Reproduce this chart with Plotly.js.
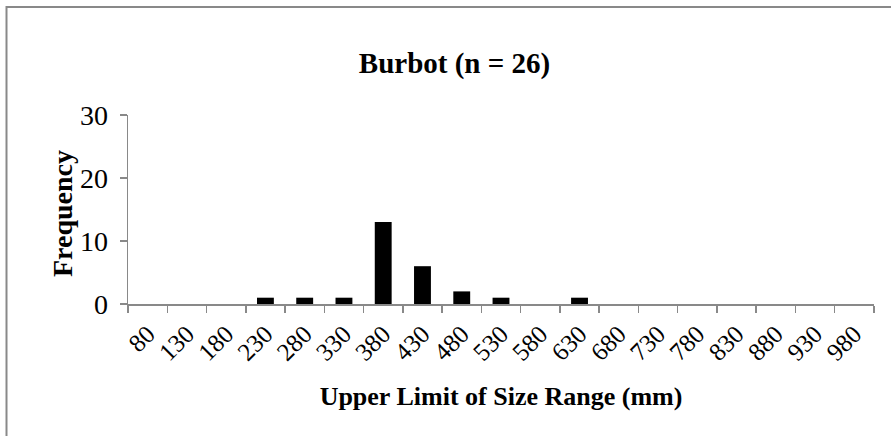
<!DOCTYPE html>
<html>
<head>
<meta charset="utf-8">
<script src="https://cdn.plot.ly/plotly-3.0.1.min.js"></script>
<style>html,body{margin:0;padding:0;background:#fff;}#chart{width:891px;height:436px;}</style>
</head>
<body>
<div id="chart"></div>
<script>
var categories = ['80','130','180','230','280','330','380','430','480','530','580','630','680','730','780','830','880','930','980'];
var frequency = [0,0,0,1,1,1,13,6,2,1,0,1,0,0,0,0,0,0,0];
var yTicks = [0,10,20,30];
var chartTitle = 'Burbot (n = 26)';
var xTitle = 'Upper Limit of Size Range (mm)';
var yTitle = 'Frequency';

var serif = 'Liberation Serif, Times New Roman, serif';
var gray = '#898989';

var trace = {
  type: 'bar',
  x: categories,
  y: frequency,
  marker: {color: '#000000', line: {width: 0}},
  hoverinfo: 'skip'
};

var layout = {
  width: 891, height: 436,
  paper_bgcolor: '#ffffff', plot_bgcolor: '#ffffff',
  margin: {l: 128, r: 17, t: 115, b: 132},
  showlegend: false,
  bargap: 0.57,
  font: {family: serif, color: '#000000'},
  title: {
    text: '<b>' + chartTitle + '</b>',
    font: {family: serif, size: 29, color: '#000000'},
    x: 454.5/891, xref: 'container', xanchor: 'center',
    y: 1 - 63/436, yref: 'container', yanchor: 'middle'
  },
  xaxis: {
    type: 'category',
    categoryorder: 'array', categoryarray: categories,
    tickson: 'boundaries',
    ticks: 'outside', ticklen: 7, tickwidth: 1.5, tickcolor: gray,
    showline: true, linecolor: gray, linewidth: 1.5,
    showgrid: false, zeroline: false,
    tickangle: -45,
    ticklabelstandoff: 4,
    tickfont: {family: serif, size: 25, color: '#000000'},
    title: {text: '<b>' + xTitle + '</b>', font: {family: serif, size: 26, color: '#000000'}, standoff: 22},
    automargin: false
  },
  yaxis: {
    range: [0, 30],
    tickvals: yTicks,
    ticktext: yTicks.map(String),
    ticks: 'outside', ticklen: 7, tickwidth: 1.5, tickcolor: gray,
    showline: true, linecolor: gray, linewidth: 1.5,
    showgrid: false, zeroline: false,
    tickfont: {family: serif, size: 28, color: '#000000'},
    ticklabelstandoff: 6,
    automargin: false
  },
  annotations: [{
    text: '<b>' + yTitle + '</b>',
    xref: 'paper', yref: 'paper',
    x: (62 - 128) / 746, y: (304 - 214) / 189,
    xanchor: 'center', yanchor: 'middle',
    textangle: -90, showarrow: false,
    font: {family: serif, size: 28, color: '#000000'}
  }],
  shapes: [{
    type: 'rect', xref: 'paper', yref: 'paper',
    x0: (6.5 - 128) / 746, x1: (900 - 128) / 746,
    y0: (304 - 445) / 189, y1: (304 - 7) / 189,
    line: {color: gray, width: 2}, fillcolor: 'rgba(0,0,0,0)', layer: 'below'
  }]
};

Plotly.newPlot('chart', [trace], layout, {staticPlot: true, displayModeBar: false});
</script>
</body>
</html>
